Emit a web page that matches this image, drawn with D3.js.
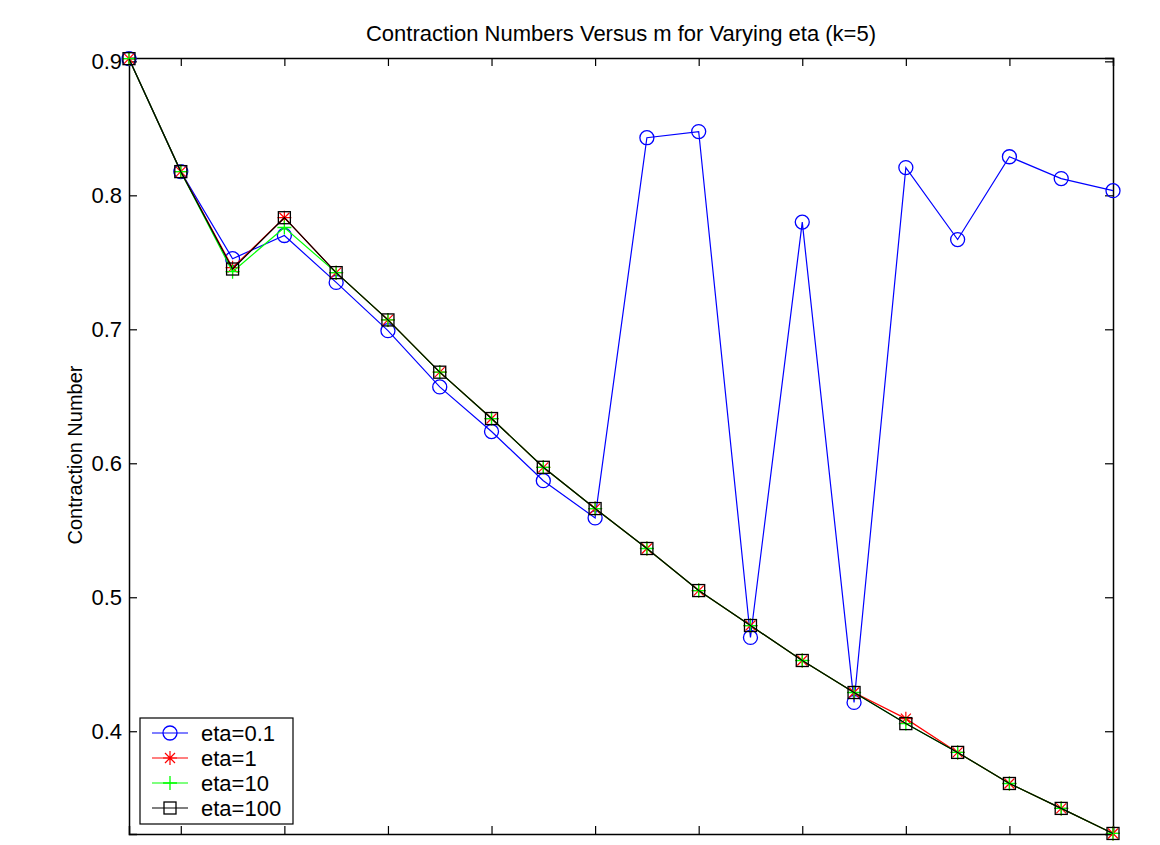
<!DOCTYPE html>
<html>
<head>
<meta charset="utf-8">
<script src="https://cdn.jsdelivr.net/npm/d3@7"></script>
<style>
  body { margin: 0; background: #fff; }
  svg { font-family: "Liberation Sans", Arial, sans-serif; }
</style>
</head>
<body>
<svg id="chart" width="1160" height="845"></svg>
<script>
// data
var mValues = d3.range(1, 21);
var eta01 = [0.902, 0.8177, 0.7527, 0.770, 0.735, 0.699, 0.657, 0.6237, 0.587, 0.5592,
             0.843, 0.8476, 0.470, 0.780, 0.4215, 0.8207, 0.767, 0.8288, 0.8125, 0.8035];
var eta1 = [0.902, 0.8177, 0.746, 0.7833, 0.7423, 0.707, 0.668, 0.6334, 0.597, 0.5662,
            0.5364, 0.5050, 0.4789, 0.4528, 0.4289, 0.4094, 0.3842, 0.3610, 0.3424, 0.3237];
var eta10 = [0.902, 0.8177, 0.743, 0.776, 0.7423, 0.707, 0.668, 0.6334, 0.597, 0.5662,
             0.5364, 0.5050, 0.4789, 0.4528, 0.4289, 0.4057, 0.3842, 0.3610, 0.3424, 0.3237];
var eta100 = [0.902, 0.8177, 0.745, 0.7833, 0.7423, 0.707, 0.668, 0.6334, 0.597, 0.5662,
              0.5364, 0.5050, 0.4789, 0.4528, 0.4289, 0.4057, 0.3842, 0.3610, 0.3424, 0.3237];
var yTicks = [0.4, 0.5, 0.6, 0.7, 0.8, 0.9];
var xTicks = [2, 4, 6, 8, 10, 12, 14, 16, 18];
var seriesNames = ['eta=0.1', 'eta=1', 'eta=10', 'eta=100'];

var series = [
  {name: seriesNames[0], values: eta01, color: '#0000ff', marker: 'circle'},
  {name: seriesNames[1], values: eta1, color: '#ff0000', marker: 'star'},
  {name: seriesNames[2], values: eta10, color: '#00ff00', marker: 'plus'},
  {name: seriesNames[3], values: eta100, color: '#000000', marker: 'square'}
];

var svg = d3.select('#chart'),
    margin = {top: 58, right: 47, bottom: 11, left: 129},
    width = +svg.attr('width') - margin.left - margin.right,
    height = +svg.attr('height') - margin.top - margin.bottom,
    g = svg.append('g').attr('transform', 'translate(' + margin.left + ',' + margin.top + ')');

var x = d3.scaleLinear().domain([1, 20]).range([0, width]);
var y = d3.scaleLinear().domain([0.3233, 0.9025]).range([height, 0]);

// axes: ticks point inward, box on all sides
var tickLen = 8;
g.append('g').attr('class', 'axis-left')
  .call(d3.axisLeft(y).tickValues(yTicks).tickSize(-tickLen).tickPadding(7).tickFormat(d3.format('.1f')));
g.append('g').attr('class', 'axis-right').attr('transform', 'translate(' + width + ',0)')
  .call(d3.axisRight(y).tickValues(yTicks).tickSize(-tickLen).tickFormat(''));
g.append('g').attr('class', 'axis-bottom').attr('transform', 'translate(0,' + height + ')')
  .call(d3.axisBottom(x).tickValues(xTicks).tickSize(-tickLen).tickFormat(''));
g.append('g').attr('class', 'axis-top')
  .call(d3.axisTop(x).tickValues(xTicks).tickSize(-tickLen).tickFormat(''));

g.selectAll('.domain').attr('stroke', '#000').attr('stroke-width', 1.5);
g.selectAll('.tick line').attr('stroke', '#000').attr('stroke-width', 1.2);
g.selectAll('.axis-left .tick text').attr('font-size', 22).attr('fill', '#000')
  .attr('font-family', '"Liberation Sans", Arial, sans-serif');

var line = d3.line()
  .x(function (d, i) { return x(mValues[i]); })
  .y(function (d) { return y(d); });

function drawMarker(sel, type, color) {
  if (type === 'circle') {
    sel.append('circle').attr('r', 7).attr('fill', 'none').attr('stroke', color).attr('stroke-width', 1.3);
  } else if (type === 'square') {
    sel.append('rect').attr('x', -6).attr('y', -6).attr('width', 12).attr('height', 12)
      .attr('fill', 'none').attr('stroke', color).attr('stroke-width', 1.3);
  } else if (type === 'plus') {
    sel.append('path').attr('d', 'M-7,0H7M0,-7V7').attr('stroke', color).attr('stroke-width', 1.3);
  } else if (type === 'star') {
    sel.append('path').attr('d', 'M-7,0H7M0,-7V7M-5,-5L5,5M-5,5L5,-5').attr('stroke', color).attr('stroke-width', 1.2);
  }
}

series.forEach(function (s) {
  var sg = g.append('g');
  sg.append('path').datum(s.values)
    .attr('d', line).attr('fill', 'none').attr('stroke', s.color).attr('stroke-width', 1.2);
  sg.selectAll('.mk').data(s.values).enter().append('g')
    .attr('transform', function (d, i) { return 'translate(' + x(mValues[i]) + ',' + y(d) + ')'; })
    .each(function () { drawMarker(d3.select(this), s.marker, s.color); });
});

// title and axis label
svg.append('text').attr('x', margin.left + width / 2).attr('y', 41)
  .attr('text-anchor', 'middle').attr('font-size', 22).text('Contraction Numbers Versus m for Varying eta (k=5)');
svg.append('text').attr('transform', 'translate(82,' + (margin.top + height / 2 + 9) + ') rotate(-90)')
  .attr('text-anchor', 'middle').attr('font-size', 20).text('Contraction Number');

// legend
var legend = svg.append('g').attr('transform', 'translate(140,718)');
legend.append('rect').attr('width', 153).attr('height', 106)
  .attr('fill', '#fff').attr('stroke', '#000').attr('stroke-width', 1.2);
series.forEach(function (s, i) {
  var row = legend.append('g').attr('transform', 'translate(0,' + (15 + i * 25) + ')');
  row.append('line').attr('x1', 12).attr('x2', 48).attr('stroke', s.color).attr('stroke-width', 1.2);
  drawMarker(row.append('g').attr('transform', 'translate(30,0)'), s.marker, s.color);
  row.append('text').attr('x', 61).attr('y', 8).attr('font-size', 22).text(s.name);
});
</script>
</body>
</html>
